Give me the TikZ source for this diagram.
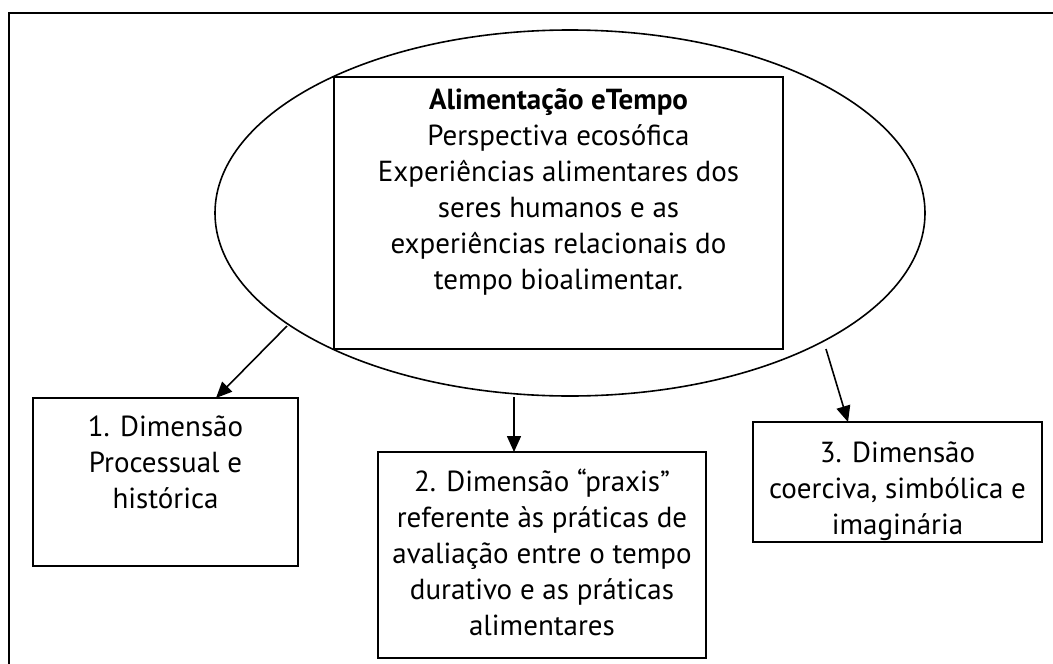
\documentclass[tikz,border=0pt]{standalone}
\usepackage{fontspec}
\setmainfont{PT Sans}
\usetikzlibrary{shapes.geometric,arrows.meta}
\begin{document}
\begin{tikzpicture}[x=1pt,y=-1pt,
  box/.style={draw,line width=1.7pt,rectangle,inner sep=0pt},
  txt/.style={align=center,font=\fontsize{29}{36}\selectfont,inner sep=0pt,anchor=north},
  arr/.style={line width=1.6pt,-{Triangle[length=16pt,width=14pt]}}]
\useasboundingbox (0,0) rectangle (1053,664);
\draw[line width=1.4pt] (9,664) -- (9,13) -- (1053,13);
\node[draw,ellipse,line width=1.6pt,minimum width=710,minimum height=366,inner sep=0pt] (ell) at (570,213) {};
\node[box,fill=white,minimum width=449,minimum height=272] (main) at (558.5,213) {};
\node[txt] (maintxt) at (558.5,88) {\textbf{Alimentação eTempo}\\Perspectiva ecosófica\\Experiências alimentares dos\\seres humanos e as\\experiências relacionais do\\tempo bioalimentar.};
\node[box,minimum width=265,minimum height=168] (b1) at (165.5,482) {};
\node[txt] (t1) at (165.5,416) {1. Dimensão\\Processual e\\histórica};
\node[box,minimum width=328,minimum height=206] (b2) at (542,555) {};
\node[txt] (t2) at (542,469) {2. Dimensão “praxis”\\referente às práticas de\\avaliação entre o tempo\\durativo e as práticas\\alimentares};
\node[box,minimum width=289,minimum height=120] (b3) at (897.5,482) {};
\node[txt] (t3) at (897.5,442) {3. Dimensão\\coerciva, simbólica e\\imaginária};
\coordinate (s1) at (287,326);
\coordinate (e1) at (216,398);
\coordinate (s2) at (514,397);
\coordinate (e2) at (514,452);
\coordinate (s3) at (826,349);
\coordinate (e3) at (848,422);
\draw[arr] (s1) -- (e1);
\draw[arr] (s2) -- (e2);
\draw[arr] (s3) -- (e3);
\end{tikzpicture}
\end{document}
